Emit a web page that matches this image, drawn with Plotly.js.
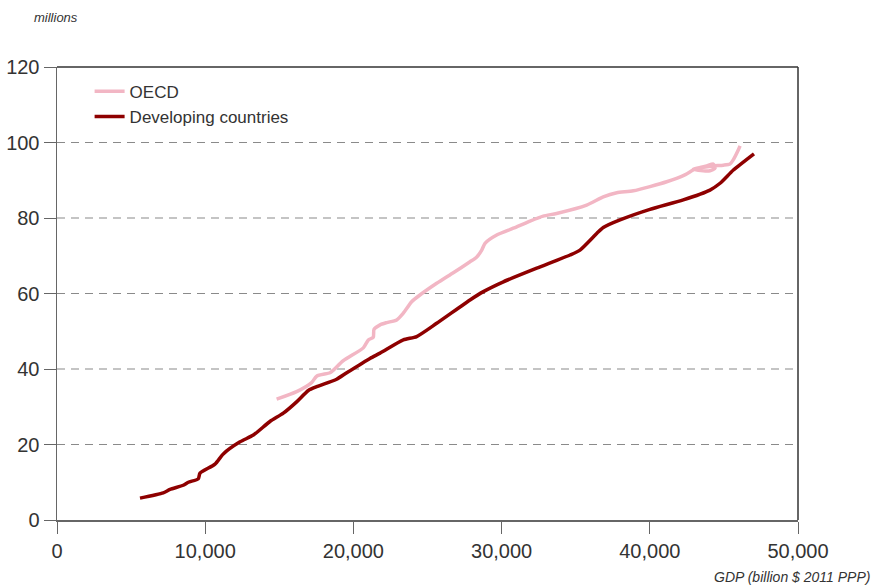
<!DOCTYPE html>
<html>
<head>
<meta charset="utf-8">
<script src="https://cdn.plot.ly/plotly-3.0.1.min.js"></script>
<style>html,body{margin:0;padding:0;background:#fff;}#chart{width:877px;height:586px;}</style>
</head>
<body>
<div id="chart"></div>
<script>
var oecdX = [14820,16170,17180,17520,18420,18650,19320,20670,21010,21340,21390,21800,22250,22920,23370,23930,24490,25620,26740,27870,28310,28660,28880,29670,30790,31920,32810,33710,35740,36860,37770,38890,41140,42400,43050,43840,44280,44400,44060,43610,42940,43500,44260,44960,45410,45630,45970,46090];
var oecdY = [32.0,34.0,36.4,38.1,39.0,39.7,42.2,45.6,47.7,48.4,50.5,51.7,52.3,53.0,54.8,57.8,59.6,62.7,65.5,68.4,69.6,71.5,73.3,75.5,77.3,79.2,80.5,81.2,83.4,85.6,86.7,87.2,89.6,91.5,93.0,93.8,94.3,93.2,92.5,92.5,93.0,93.4,93.8,94.0,94.3,95.4,98.0,99.1];
var devX = [5600,7170,7625,8520,8860,9530,9650,10660,11220,12350,13250,14370,15270,16170,16960,17520,18870,19550,21120,21800,23370,24270,25620,27870,28770,30120,32370,34620,35290,36420,36860,37990,40010,42260,44060,44740,45640,47030];
var devY = [5.8,7.2,8.1,9.2,10.0,10.9,12.4,14.8,17.5,20.7,22.5,26.1,28.3,31.3,34.3,35.3,37.3,39.0,42.8,44.2,47.7,48.6,52.1,58.3,60.5,63.1,66.7,70.2,71.5,75.9,77.5,79.5,82.3,84.8,87.4,89.2,92.7,97.0];
var seriesNames = ["OECD","Developing countries"];
var xTicks = [0,10000,20000,30000,40000,50000];
var yTicks = [0,20,40,60,80,100,120];

var font = "Liberation Sans, Arial, sans-serif";
var traces = [
  {x: oecdX, y: oecdY, name: seriesNames[0], mode: "lines",
   line: {color: "#F2B6C4", width: 3.5, shape: "spline", smoothing: 0.6}},
  {x: devX, y: devY, name: seriesNames[1], mode: "lines",
   line: {color: "#8E0000", width: 3.5, shape: "spline", smoothing: 0.6}}
];
var layout = {
  width: 877, height: 586,
  margin: {l: 57, r: 79, t: 67, b: 66},
  paper_bgcolor: "#fff", plot_bgcolor: "#fff",
  font: {family: font, color: "#333", size: 20},
  showlegend: true,
  legend: {x: 0.044, y: 0.985, xanchor: "left", yanchor: "top", bgcolor: "rgba(0,0,0,0)",
           font: {family: font, size: 17, color: "#333"}, tracegroupgap: 0, itemwidth: 30},
  xaxis: {range: [0, 50000], tickvals: xTicks, ticktext: xTicks.map(function(v){return v.toLocaleString("en-US");}),
          ticks: "outside", ticklen: 12, tickcolor: "#666", showline: true, linecolor: "#666", linewidth: 1.5,
          showgrid: false, zeroline: false, tickfont: {family: font, size: 20, color: "#333"}},
  yaxis: {range: [0, 120], tickvals: yTicks, ticks: "outside", ticklen: 12, tickcolor: "#666",
          showline: true, linecolor: "#666", linewidth: 1.5, showgrid: false, zeroline: false,
          tickfont: {family: font, size: 20, color: "#333"}},
  shapes: [
    {type: "line", xref: "paper", yref: "paper", x0: 0, x1: 1, y0: 1, y1: 1, line: {color: "#333", width: 1.5}},
    {type: "line", xref: "paper", yref: "paper", x0: 1, x1: 1, y0: 0, y1: 1, line: {color: "#333", width: 1.5}}
  ].concat([20,40,60,80,100].map(function(v){
    return {type: "line", xref: "paper", yref: "y", x0: 0, x1: 1, y0: v, y1: v, layer: "below",
            line: {color: "#8a8a8a", width: 1.2, dash: "8px,6px"}};
  })),
  annotations: [
    {text: "<i>millions</i>", xref: "paper", yref: "paper", x: -0.034, y: 1.11, xanchor: "left", yanchor: "middle",
     showarrow: false, font: {family: font, size: 13, color: "#333"}},
    {text: "<i>GDP (billion $ 2011 PPP)</i>", xref: "paper", yref: "paper", x: 1.1, y: -0.125, xanchor: "right", yanchor: "middle",
     showarrow: false, font: {family: font, size: 14, color: "#333"}}
  ]
};
Plotly.newPlot("chart", traces, layout, {displayModeBar: false, staticPlot: true});
</script>
</body>
</html>
